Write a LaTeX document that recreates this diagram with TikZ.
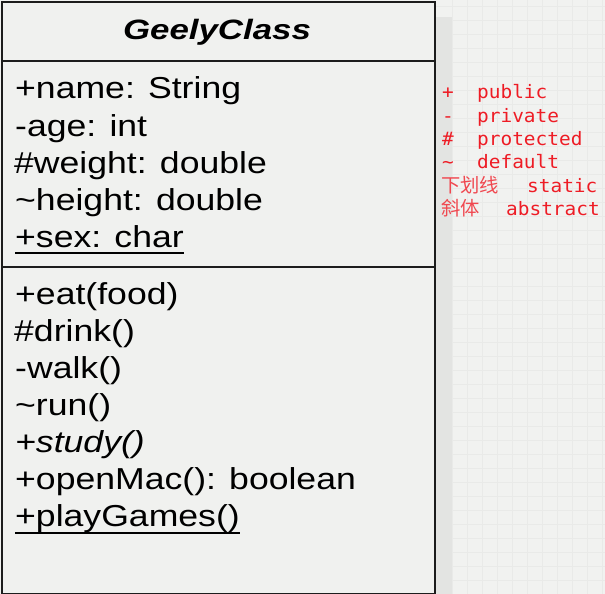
\documentclass[tikz,border=0pt]{standalone}
\usepackage{fontspec}
\setmainfont{Liberation Sans}
\newfontfamily\umlfont[FakeStretch=1.175]{Liberation Sans}
\newfontfamily\umltitle[FakeStretch=1.245]{Liberation Sans}
\newfontfamily\legmono[FakeStretch=1.05]{DejaVu Sans Mono}
\newfontfamily\legcjk{Noto Sans CJK SC}
\definecolor{bgcol}{HTML}{F1F2F0}
\definecolor{gridcol}{HTML}{E9EAE8}
\definecolor{boxfill}{HTML}{F0F1EF}
\definecolor{shadowcol}{HTML}{E3E4E2}
\definecolor{edgecol}{HTML}{1C1C1C}
\definecolor{legred}{HTML}{EE1C25}
\definecolor{legredlight}{HTML}{F04850}
\tikzset{
  member/.style={anchor=base west, inner sep=0pt, text=black,
    font=\umlfont\fontsize{30.3}{30}\selectfont},
  classtitle/.style={anchor=base, inner sep=0pt, text=black,
    font=\umltitle\bfseries\itshape\fontsize{28}{28}\selectfont},
  legsym/.style={anchor=base west, inner sep=0pt, text=legred,
    font=\legmono\fontsize{18.5}{18.5}\selectfont},
  legcn/.style={anchor=base west, inner sep=0pt, text=legredlight,
    font=\legcjk\fontsize{19.3}{19}\selectfont},
  boxedge/.style={draw=edgecol, line width=2pt},
  uline/.style={draw=black, line width=1.8pt}
}
\begin{document}
\begin{tikzpicture}[x=1pt,y=-1pt]
\useasboundingbox (0,0) rectangle (605,594);
% background with faint grid
\fill[bgcol] (0,0) rectangle (605,594);
\foreach \gx in {452,467,...,605} \draw[gridcol, line width=0.8pt] (\gx,0) -- (\gx,594);
\foreach \gy in {6,20,...,594} \draw[gridcol, line width=0.8pt] (434,\gy) -- (605,\gy);
% shadow strip
\fill[shadowcol] (435,17) rectangle (452,594);
% class box
\node[boxedge, fill=boxfill, anchor=north west, minimum width=433pt, minimum height=592pt, inner sep=0pt] (cls) at (1,1) {};
\coordinate (s1l) at (1,61);
\coordinate (s1r) at (434,61);
\coordinate (s2l) at (1,267);
\coordinate (s2r) at (434,267);
\draw[boxedge] (s1l) -- (s1r);
\draw[boxedge] (s2l) -- (s2r);
% title
\node[classtitle] (title) at (217,40) {GeelyClass};
% attributes
\node[member] (a1) at (15,99) {+name: String};
\node[member] (a2) at (15,136) {-age: int};
\node[member] (a3) at (14,173) {\#weight: double};
\node[member] (a4) at (15,210) {\textasciitilde height: double};
\node[member] (a5) at (15,247) {+sex: char};
\draw[uline] ([yshift=-6pt]a5.base west) -- ([yshift=-6pt]a5.base east);
% methods
\node[member] (m1) at (15,304) {+eat(food)};
\node[member] (m2) at (14,341) {\#drink()};
\node[member] (m3) at (15,378) {-walk()};
\node[member] (m4) at (15,415) {\textasciitilde run()};
\node[member] (m5) at (15,452) {\itshape +study()};
\node[member] (m6) at (15,489) {+openMac(): boolean};
\node[member] (m7) at (15,526) {+playGames()};
\draw[uline] ([yshift=-7pt]m7.base west) -- ([yshift=-7pt]m7.base east);
% legend
\node[legsym] (l1s) at (442,99) {+};
\node[legsym] (l1w) at (477,99) {public};
\node[legsym] (l2s) at (442,122) {-};
\node[legsym] (l2w) at (477,122) {private};
\node[legsym] (l3s) at (442,145) {\#};
\node[legsym] (l3w) at (477,145) {protected};
\node[legsym] (l4s) at (442,168) {\textasciitilde};
\node[legsym] (l4w) at (477,168) {default};
\node[legcn] (l5s) at (441,192) {下划线};
\node[legsym] (l5w) at (527,192) {static};
\node[legcn] (l6s) at (441,215) {斜体};
\node[legsym] (l6w) at (506,215) {abstract};
\end{tikzpicture}
\end{document}
